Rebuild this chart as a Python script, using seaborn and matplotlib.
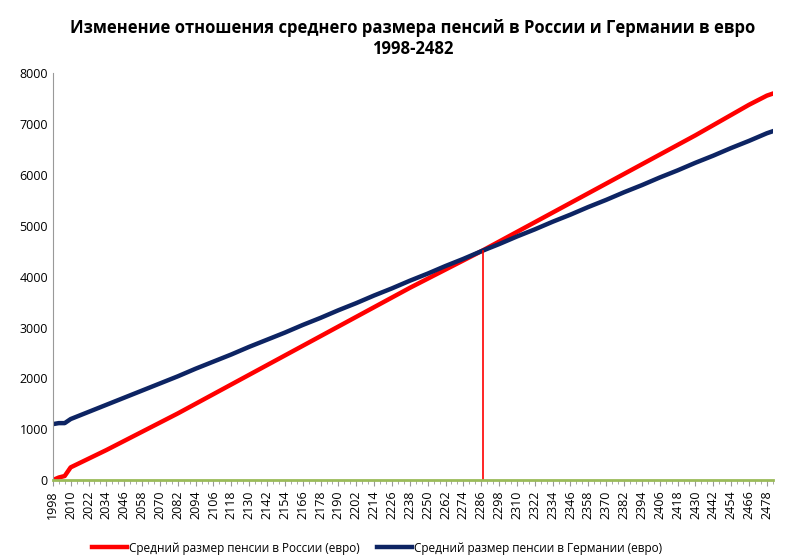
import seaborn as sns
import matplotlib.pyplot as plt
import pandas as pd

# values at the labelled years
years = [1998, 2002, 2006, 2010, 2022, 2034, 2046, 2058, 2070, 2082, 2094, 2106,
         2118, 2130, 2142, 2154, 2166, 2178, 2190, 2202, 2214, 2226, 2238, 2250,
         2262, 2274, 2286, 2298, 2310, 2322, 2334, 2346, 2358, 2370, 2382, 2394,
         2406, 2418, 2430, 2442, 2454, 2466, 2478, 2482]
russia = [0, 50, 80, 250, 420, 590, 770, 950, 1130, 1310, 1500, 1690,
          1880, 2070, 2260, 2450, 2640, 2830, 3020, 3210, 3400, 3590, 3780, 3960,
          4140, 4320, 4500, 4690, 4880, 5070, 5260, 5450, 5640, 5830, 6020, 6210,
          6400, 6590, 6780, 6980, 7180, 7380, 7560, 7600]
germany = [1100, 1120, 1120, 1200, 1340, 1480, 1620, 1760, 1900, 2040, 2190, 2330,
           2470, 2620, 2760, 2900, 3050, 3190, 3340, 3480, 3630, 3770, 3920, 4060,
           4210, 4350, 4500, 4640, 4790, 4930, 5080, 5220, 5370, 5510, 5660, 5800,
           5950, 6090, 6240, 6380, 6530, 6670, 6820, 6860]
cross_year = 2287
cross_value = 4500
tick_years = list(range(1998, 2483, 12))

label_ru = 'Средний размер пенсии в России (евро)'
label_de = 'Средний размер пенсии в Германии (евро)'

df = pd.DataFrame({'year': years, label_ru: russia, label_de: germany})
long = df.melt('year', var_name='series', value_name='value')

plt.rcParams['font.family'] = 'Open Sans'
fig, ax = plt.subplots(figsize=(8, 5.55), dpi=100)
fig.subplots_adjust(left=0.066, right=0.966, top=0.868, bottom=0.135)

sns.lineplot(data=long, x='year', y='value', hue='series',
             palette={label_ru: '#ff0000', label_de: '#0d2463'},
             linewidth=3.2, ax=ax)
ax.plot([cross_year, cross_year], [0, cross_value], color='#ff0000', linewidth=1.2)

ax.set_xlim(1998, 2482)
ax.set_ylim(0, 8000)
ax.set_yticks(range(0, 8001, 1000))
ax.set_xticks(tick_years)
ax.set_xticks(range(1998, 2483, 4), minor=True)
ax.tick_params(axis='x', rotation=90, labelsize=9, length=4, color='#999999')
ax.tick_params(axis='x', which='minor', length=3, color='#999999')
ax.tick_params(axis='y', labelsize=9, length=0)
ax.set_xlabel('')
ax.set_ylabel('')
for s in ['top', 'right']:
    ax.spines[s].set_visible(False)
ax.spines['left'].set_color('#999999')
ax.spines['bottom'].set_color('#9bbb59')
ax.spines['bottom'].set_linewidth(2)

ax.set_title('Изменение отношения среднего размера пенсий в России и Германии в евро\n1998-2482',
             fontsize=12, fontweight='bold', pad=14)

ax.legend(loc='upper center', bbox_to_anchor=(0.45, -0.125), ncol=2, frameon=False,
          fontsize=8.5, handlelength=3, handletextpad=0.1, columnspacing=1.5, title=None)

plt.savefig('out.png', dpi=100)
